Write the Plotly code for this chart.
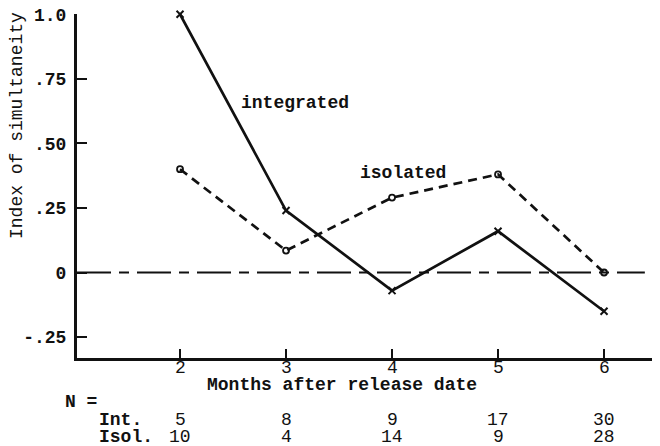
import plotly.graph_objects as go

months = [2, 3, 4, 5, 6]
integrated = [1.0, 0.24, -0.07, 0.16, -0.15]
isolated = [0.40, 0.085, 0.29, 0.38, 0.0]
n_int = ["5", "8", "9", "17", "30"]
n_isol = ["10", "4", "14", "9", "28"]
y_tickvals = [1.0, 0.75, 0.5, 0.25, 0.0, -0.25]
y_ticktext = ["1.0", ".75", ".50", ".25", "0", "-.25"]
x_tickvals = [2, 3, 4, 5, 6]
x_ticktext = ["2", "3", "4", "5", "6"]

FONT = "Liberation Mono, Courier New, monospace"
INK = "#111111"
FS = 18

# page has an 8px body margin; reference plot area: x 77..660, y 14..358
OFF = 8
W, H = 660 - OFF, 446 - OFF
PL, PT, PR, PB = 77, 14, 660, 358
L, T = PL - OFF, PT - OFF
R, B = 660 - PR, 446 - PB


def paper_x(px):
    return (px - PL) / (PR - PL)


def paper_y(py):
    return (PB - py) / (PB - PT)


def fnt(weight="bold"):
    return dict(family=FONT, size=FS, color=INK, weight=weight)


fig = go.Figure()

fig.add_trace(go.Scatter(
    x=months, y=integrated, mode="lines+markers",
    line=dict(color=INK, width=2.7),
    marker=dict(symbol="x-thin-open", size=7, line=dict(color=INK, width=2)),
    cliponaxis=False, showlegend=False))

fig.add_trace(go.Scatter(
    x=months, y=isolated, mode="lines+markers",
    line=dict(color=INK, width=2.7, dash="9px,6px"),
    marker=dict(symbol="circle-open", size=6, line=dict(color=INK, width=1.8)),
    cliponaxis=False, showlegend=False))

# zero reference line (dash-dot)
fig.add_shape(type="line", xref="paper", yref="y", x0=0, x1=0.974, y0=0, y1=0,
              line=dict(color=INK, width=2, dash="34px,8px,10px,8px"))

fig.update_xaxes(range=[1.028, 6.528], tickvals=x_tickvals, showticklabels=False,
                 ticks="inside", ticklen=9, tickwidth=2, tickcolor=INK,
                 showline=True, linecolor=INK, linewidth=3, showgrid=False, zeroline=False)
fig.update_yaxes(range=[-0.331, 1.001], tickvals=y_tickvals, ticktext=y_ticktext,
                 ticks="inside", ticklen=10, tickwidth=2, tickcolor=INK,
                 showline=True, linecolor=INK, linewidth=3, showgrid=False, zeroline=False,
                 ticklabelstandoff=4, ticklabeloverflow="allow", tickfont=fnt())

annotations = [
    dict(text="integrated", x=paper_x(240), y=paper_y(103), xanchor="left", yanchor="middle", font=fnt()),
    dict(text="isolated", x=paper_x(359), y=paper_y(173), xanchor="left", yanchor="middle", font=fnt()),
    dict(text="Index of simultaneity", x=paper_x(17), y=paper_y(126), xanchor="center", yanchor="middle",
         textangle=-90, font=fnt("normal")),
    dict(text="Months after release date", x=paper_x(206), y=paper_y(385), xanchor="left", yanchor="middle",
         font=fnt()),
    dict(text="N =", x=paper_x(64), y=paper_y(402), xanchor="left", yanchor="middle", font=fnt()),
    dict(text="Int.", x=paper_x(98), y=paper_y(420), xanchor="left", yanchor="middle", font=fnt()),
    dict(text="Isol.", x=paper_x(98), y=paper_y(437), xanchor="left", yanchor="middle", font=fnt()),
]
for a in annotations:
    a.update(xref="paper", yref="paper", showarrow=False, borderpad=0)

for m, t in zip(x_tickvals, x_ticktext):
    annotations.append(dict(text=t, x=m, y=paper_y(368), xref="x", yref="paper", showarrow=False,
                            borderpad=0, xanchor="center", yanchor="middle", font=fnt("normal")))

for m, a, b in zip(months, n_int, n_isol):
    annotations.append(dict(text=a, x=m, y=paper_y(420), xref="x", yref="paper", showarrow=False,
                            borderpad=0, xanchor="center", yanchor="middle", font=fnt("normal")))
    annotations.append(dict(text=b, x=m, y=paper_y(437), xref="x", yref="paper", showarrow=False,
                            borderpad=0, xanchor="center", yanchor="middle", font=fnt("normal")))

fig.update_layout(
    width=W, height=H, margin=dict(l=L, r=R, t=T, b=B, autoexpand=False),
    paper_bgcolor="white", plot_bgcolor="white",
    annotations=annotations,
)

fig.write_html("out.html")
